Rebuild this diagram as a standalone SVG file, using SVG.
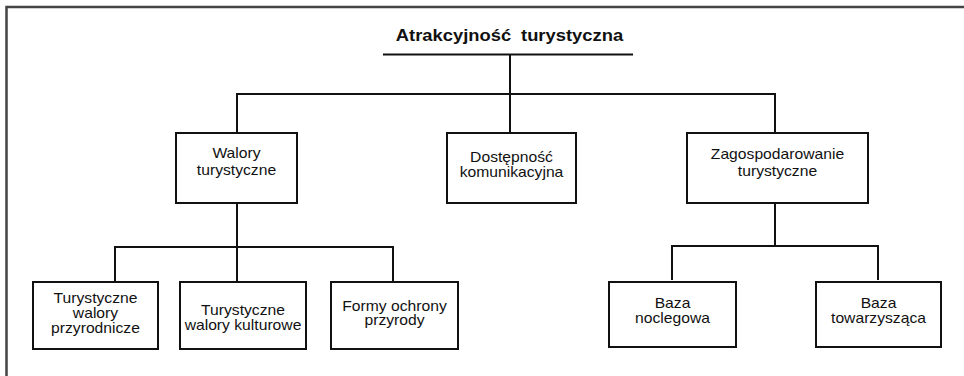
<svg xmlns="http://www.w3.org/2000/svg" width="964" height="376" viewBox="0 0 964 376">
<style>
.frame{stroke:#444;stroke-width:2.5;fill:none}
.box{fill:#fff;stroke:#111;stroke-width:2}
.ln{stroke:#111;stroke-width:2;fill:none}
.t{font-family:"Liberation Sans",Arial,sans-serif;font-size:14px;text-anchor:middle;fill:#111}
.title{font-family:"Liberation Sans",Arial,sans-serif;font-size:16px;font-weight:bold;text-anchor:middle;fill:#111;word-spacing:4px}
</style>
<rect width="964" height="376" fill="#fff"/>
<path class="frame" d="M6.5,376 V7 H964"/>
<g id="connectors">
<path class="ln" d="M383,54.5 H633" stroke-width="2.5"/>
<path class="ln" d="M510,54.5 V94"/>
<path class="ln" d="M237,133 V94 H775 V133"/>
<path class="ln" d="M510,94 V133"/>
<path class="ln" d="M237,203 V282"/>
<path class="ln" d="M115,282 V247 H393 V282"/>
<path class="ln" d="M775,203 V246"/>
<path class="ln" d="M672,280 V246 H878 V280"/>
</g>
<g id="title">
<text class="title" transform="matrix(1.15 0 0 1 509.5 41)">Atrakcyjność turystyczna</text>
</g>
<g id="walory">
<rect class="box" x="176" y="133" width="121" height="70"/>
<text class="t" transform="matrix(1.12 0 0 1 236.5 157.5)">Walory</text>
<text class="t" transform="matrix(1.12 0 0 1 236.5 174.5)">turystyczne</text>
</g>
<g id="dostepnosc">
<rect class="box" x="447" y="133" width="129" height="70"/>
<text class="t" transform="matrix(1.12 0 0 1 511.5 161.5)">Dostępność</text>
<text class="t" transform="matrix(1.12 0 0 1 511.5 177)">komunikacyjna</text>
</g>
<g id="zagospodarowanie">
<rect class="box" x="687" y="133" width="181" height="70"/>
<text class="t" transform="matrix(1.12 0 0 1 777.5 159)">Zagospodarowanie</text>
<text class="t" transform="matrix(1.12 0 0 1 777.5 176)">turystyczne</text>
</g>
<g id="przyrodnicze">
<rect class="box" x="33" y="282" width="125" height="67"/>
<text class="t" transform="matrix(1.12 0 0 1 95.5 303)">Turystyczne</text>
<text class="t" transform="matrix(1.12 0 0 1 95.5 318)">walory</text>
<text class="t" transform="matrix(1.12 0 0 1 95.5 332.5)">przyrodnicze</text>
</g>
<g id="kulturowe">
<rect class="box" x="180" y="282" width="126" height="67"/>
<text class="t" transform="matrix(1.12 0 0 1 243 315)">Turystyczne</text>
<text class="t" transform="matrix(1.12 0 0 1 243 329.5)">walory kulturowe</text>
</g>
<g id="formy">
<rect class="box" x="331" y="282" width="127" height="67"/>
<text class="t" transform="matrix(1.12 0 0 1 394.5 311)">Formy ochrony</text>
<text class="t" transform="matrix(1.12 0 0 1 394.5 325)">przyrody</text>
</g>
<g id="noclegowa">
<rect class="box" x="609" y="282" width="127" height="65"/>
<text class="t" transform="matrix(1.12 0 0 1 672.5 308)">Baza</text>
<text class="t" transform="matrix(1.12 0 0 1 672.5 323)">noclegowa</text>
</g>
<g id="towarzyszaca">
<rect class="box" x="816" y="282" width="125" height="65"/>
<text class="t" transform="matrix(1.12 0 0 1 878.5 308)">Baza</text>
<text class="t" transform="matrix(1.12 0 0 1 878.5 323)">towarzysząca</text>
</g>
</svg>
